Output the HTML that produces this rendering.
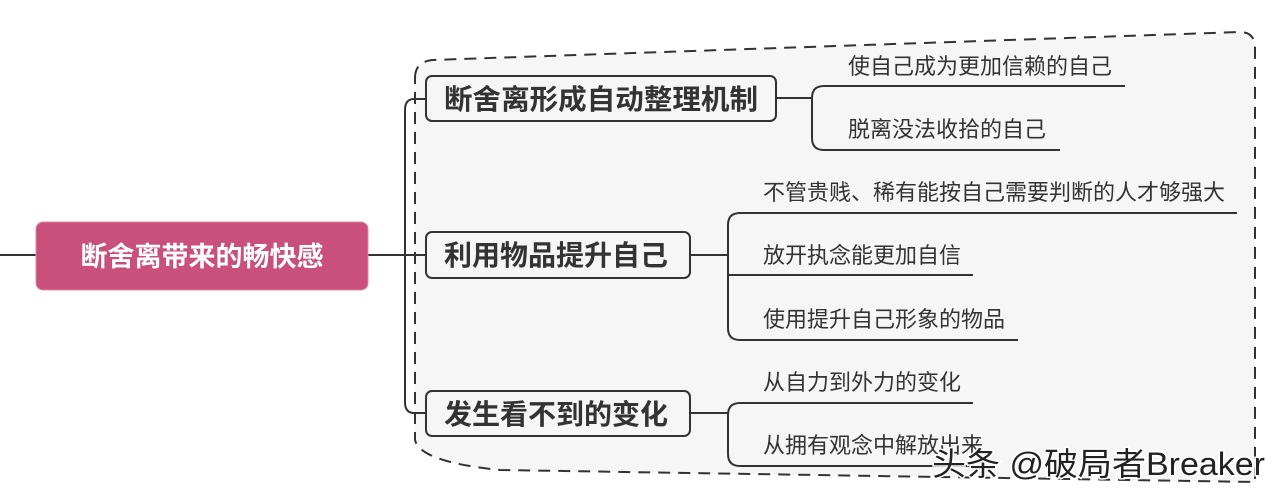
<!DOCTYPE html>
<html><head><meta charset="utf-8"><style>
html,body{margin:0;padding:0;background:#fff;width:1280px;height:493px;overflow:hidden}
svg text{font-family:"Liberation Sans","Noto Sans CJK SC",sans-serif}
</style></head><body>
<svg width="1280" height="493" viewBox="0 0 1280 493" xmlns="http://www.w3.org/2000/svg">
<path d="M415,78 Q415,62 432,60 L1240,32 Q1255,32 1255,48 L1255,482 L500,470 Q420,462 415,440 Z" fill="#f6f6f6" stroke="#333" stroke-width="2" stroke-dasharray="12,8"/>
<g stroke="#333" stroke-width="2" fill="none">
<line x1="0" y1="255" x2="36" y2="255"/>
<line x1="368" y1="255" x2="426" y2="255"/>
<path d="M426,99 L414,99 Q405,99 405,110 L405,402 Q405,413 414,413 L426,413"/>
<line x1="776" y1="98" x2="812" y2="98"/>
<path d="M1125,86 L824,86 Q812,86 812,98 L812,138 Q812,150 824,150 L1060,150"/>
<line x1="690" y1="255" x2="728" y2="255"/>
<path d="M1237,213 L740,213 Q728,213 728,225 L728,328 Q728,340 740,340 L1018,340"/>
<line x1="728" y1="275" x2="973" y2="275"/>
<line x1="690" y1="413" x2="728" y2="413"/>
<path d="M973,403 L740,403 Q728,403 728,415 L728,454 Q728,466 740,466 L970,466"/>
</g>
<rect x="36" y="222" width="332" height="68" rx="7" fill="#c8507a" stroke="#e08aa0" stroke-width="1"/>
<text x="202" y="266" font-size="27" font-weight="bold" fill="#fff" text-anchor="middle">断舍离带来的畅快感</text>
<g fill="#f6f6f6" stroke="#333" stroke-width="2">
<rect x="426" y="76" width="350" height="45" rx="6"/>
<rect x="426" y="232" width="264" height="46" rx="6"/>
<rect x="426" y="391" width="264" height="45" rx="6"/>
</g>
<g font-size="28" font-weight="bold" fill="#333">
<text x="444" y="109" textLength="314" lengthAdjust="spacingAndGlyphs">断舍离形成自动整理机制</text>
<text x="444" y="265">利用物品提升自己</text>
<text x="444" y="424">发生看不到的变化</text>
</g>
<g font-size="22" fill="#333">
<text x="848" y="74">使自己成为更加信赖的自己</text>
<text x="848" y="137">脱离没法收拾的自己</text>
<text x="763" y="200">不管贵贱、稀有能按自己需要判断的人才够强大</text>
<text x="763" y="263">放开执念能更加自信</text>
<text x="763" y="327">使用提升自己形象的物品</text>
<text x="763" y="390">从自力到外力的变化</text>
<text x="763" y="453">从拥有观念中解放出来</text>
</g>
<text x="932" y="475" font-size="32" fill="#222" stroke="#fff" stroke-width="3" paint-order="stroke" textLength="333" lengthAdjust="spacingAndGlyphs">头条 @破局者Breaker</text>
</svg>
</body></html>
